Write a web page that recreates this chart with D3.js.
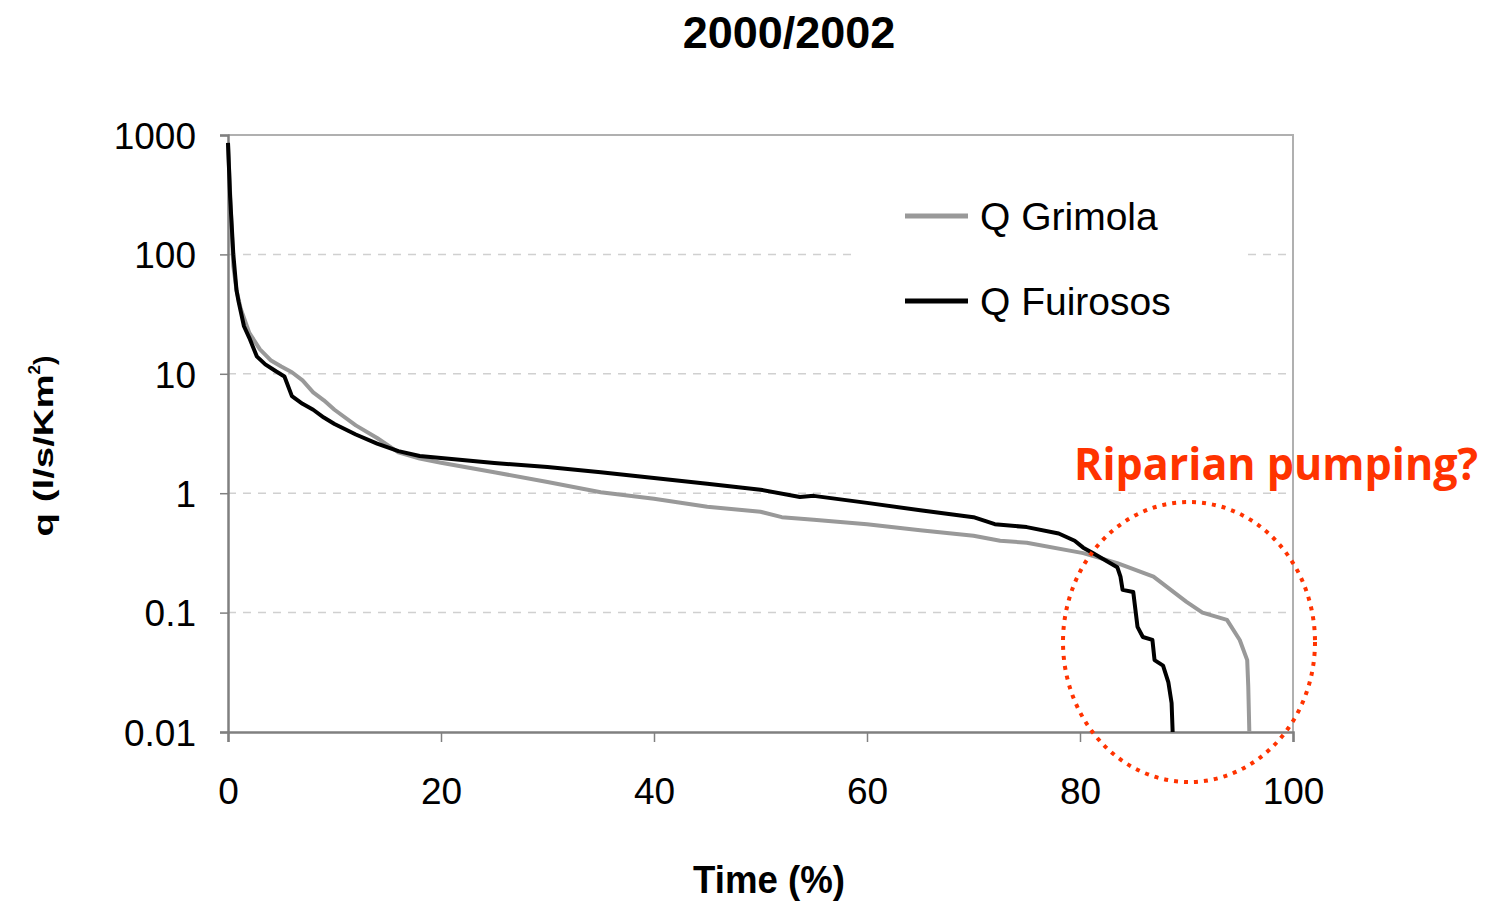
<!DOCTYPE html>
<html><head><meta charset="utf-8">
<script src="https://cdn.jsdelivr.net/npm/d3@7"></script>
<style>body{margin:0;background:#fff}svg{display:block}</style>
</head><body>
<script>
const title = "2000/2002";
const xLabel = "Time (%)";
const xTicks = [0, 20, 40, 60, 80, 100];
const yTicks = [0.01, 0.1, 1, 10, 100, 1000];
const yTickLabels = ["0.01", "0.1", "1", "10", "100", "1000"];
const seriesNames = ["Q Grimola", "Q Fuirosos"];
// Grimola (grey) duration curve: [% time, q]
const grimolaPct = [0,0.3,0.5,0.8,1.2,2,3,4,5,6,7,8,9,10,12,14,16,18,20,25,30,35,40,45,50,52,55,60,65,70,72.5,75,80.3,83.5,86.9,90,91.5,93.8,95,95.7,95.8,95.9];
const grimolaQ   = [850,200,80,50,35,22,16,13,11.5,10.3,8.8,7,6,5,3.7,2.9,2.2,1.95,1.8,1.5,1.24,1.02,0.9,0.77,0.7,0.63,0.6,0.55,0.49,0.44,0.4,0.385,0.315,0.26,0.2,0.123,0.1,0.087,0.059,0.04,0.024,0.01];
// Fuirosos (black) duration curve
const fuirososPct = [0,0.2,0.5,0.8,1,1.5,2,2.7,3.5,4.5,5.3,6,7,8,9,10,12,14,16,18,20,25,30,35,40,45,50,53.7,55,60,65,70,72,75,78,79.5,80.3,81.2,83.5,83.8,84,85,85.4,85.9,86.8,87,87.8,88.3,88.6,88.7];
const fuirososQ   = [860,300,100,50,40,25,20,14,12,10.5,9.5,6.5,5.6,5,4.3,3.8,3.1,2.6,2.25,2.05,1.97,1.79,1.66,1.5,1.34,1.2,1.07,0.93,0.95,0.83,0.72,0.63,0.55,0.52,0.46,0.4,0.35,0.315,0.24,0.2,0.155,0.149,0.076,0.0625,0.059,0.04,0.036,0.026,0.0175,0.01];
const annotation = "Riparian pumping?";

const W = 1493, H = 905;
const svg = d3.select("body").append("svg").attr("width", W).attr("height", H);
const x = d3.scaleLinear().domain([0, 100]).range([228, 1293]);
const y = d3.scaleLog().domain([0.01, 1000]).range([732, 135]);
const font = "'Liberation Sans', Arial, sans-serif";

// gridlines
svg.append("g").selectAll("line").data(yTicks.filter(v => v > 0.01 && v < 1000)).join("line")
  .attr("x1", x(0)).attr("x2", x(100)).attr("y1", d => y(d)).attr("y2", d => y(d))
  .attr("stroke", "#d0d0d0").attr("stroke-width", 1.5).attr("stroke-dasharray", "8,7");

// border top/right
svg.append("path").attr("d", `M${x(0)},${y(1000)}H${x(100)}V${y(0.01)}`)
  .attr("fill", "none").attr("stroke", "#b0b0b0").attr("stroke-width", 2);

// legend background
svg.append("rect").attr("x", 852).attr("y", 172).attr("width", 392).attr("height", 165).attr("fill", "#fff");

// axes
const xAxis = svg.append("g").attr("transform", `translate(0,${y(0.01)})`)
  .call(d3.axisBottom(x).tickValues(xTicks).tickSize(10).tickPadding(36).tickFormat(d3.format("d")));
const yAxis = svg.append("g").attr("transform", `translate(${x(0)},0)`)
  .call(d3.axisLeft(y).tickValues(yTicks).tickSize(8).tickPadding(24).tickFormat((d, i) => yTickLabels[i]));
[xAxis, yAxis].forEach(a => {
  a.select(".domain").attr("stroke", "#808080").attr("stroke-width", 2.5);
  a.selectAll(".tick line").attr("stroke", "#808080").attr("stroke-width", 1.5);
  a.selectAll("text").attr("fill", "#000").attr("font-family", font).attr("font-size", 37);
});
xAxis.selectAll("text").attr("dy", "0.71em").attr("y", 46);
yAxis.selectAll("text").attr("dy", "0.36em");

// lines
const line = d3.line().x(d => x(d[0])).y(d => y(d[1]));
const gData = grimolaPct.map((p, i) => [p, grimolaQ[i]]);
const fData = fuirososPct.map((p, i) => [p, fuirososQ[i]]);
svg.append("path").datum(gData).attr("d", line).attr("fill", "none")
  .attr("stroke", "#999999").attr("stroke-width", 4).attr("stroke-linejoin", "round");
svg.append("path").datum(fData).attr("d", line).attr("fill", "none")
  .attr("stroke", "#000").attr("stroke-width", 4).attr("stroke-linejoin", "round");

// legend
const lg = svg.append("g");
[["#999999", 216], ["#000", 301]].forEach((c, i) => {
  lg.append("line").attr("x1", 905).attr("x2", 968).attr("y1", c[1]).attr("y2", c[1])
    .attr("stroke", c[0]).attr("stroke-width", 5);
  lg.append("text").attr("x", 980).attr("y", c[1]).attr("dy", "0.36em")
    .attr("font-family", font).attr("font-size", 39).text(seriesNames[i]);
});

// title & labels
svg.append("text").attr("x", 789).attr("y", 48).attr("text-anchor", "middle")
  .attr("font-family", font).attr("font-weight", "bold").attr("font-size", 45).text(title);
svg.append("text").attr("x", 769).attr("y", 893).attr("text-anchor", "middle")
  .attr("font-family", font).attr("font-weight", "bold").attr("font-size", 38)
  .attr("textLength", 152).attr("lengthAdjust", "spacingAndGlyphs").text(xLabel);
const yl = svg.append("text").attr("transform", "translate(53,446) rotate(-90)").attr("text-anchor", "middle")
  .attr("font-family", font).attr("font-weight", "bold").attr("font-size", 28);
yl.append("tspan").attr("textLength", 162).attr("lengthAdjust", "spacingAndGlyphs").text("q (l/s/Km");
yl.append("tspan").attr("font-size", 17).attr("dy", -13).text("2");
yl.append("tspan").attr("dy", 13).text(")");

// annotation
svg.append("text").attr("x", 1074).attr("y", 480).attr("font-family", "'Open Sans', sans-serif")
  .attr("font-weight", "bold").attr("font-size", 44).attr("fill", "#ff3300")
  .attr("textLength", 404).attr("lengthAdjust", "spacingAndGlyphs").text(annotation);
svg.append("ellipse").attr("cx", 1189).attr("cy", 642).attr("rx", 126).attr("ry", 140)
  .attr("fill", "none").attr("stroke", "#ff3300").attr("stroke-width", 4).attr("stroke-dasharray", "4,6");
</script>
</body></html>
